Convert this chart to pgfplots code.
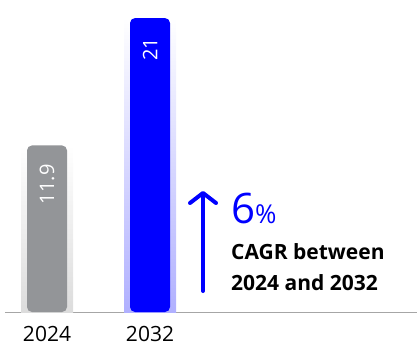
\documentclass[border=0pt]{standalone}
\usepackage{fontspec}
\setmainfont{Open Sans}
\usepackage{pgfplots}
\pgfplotsset{compat=1.18}
\usetikzlibrary{arrows.meta}
\definecolor{barblue}{HTML}{0000FF}
\definecolor{bargray}{HTML}{939598}
\definecolor{glowblue}{HTML}{B0B0FF}
\definecolor{glowgray}{HTML}{DCDCDC}
\begin{document}
\begin{tikzpicture}
\useasboundingbox (0,0) rectangle (417pt,346pt);
\begin{axis}[at={(5pt,34pt)}, anchor=south west, scale only axis,
  width=412pt, height=312pt,
  xmin=-0.4078, xmax=3.592, ymin=0, ymax=22.29,
  axis x line*=bottom, axis y line=none,
  x axis line style={-, draw=gray!70, line width=0.8pt},
  xtick={0,1}, xticklabels={2024,2032}, major tick length=0pt,
  xticklabel style={font=\fontsize{21}{21}\selectfont, text=black, inner sep=0pt, yshift=-14pt},
  clip=false]
\addplot[ybar, bar shift=0pt, bar width=52pt, draw=none, shading=axis, top color=white, bottom color=glowgray] coordinates {(0,11.9)};
\addplot[ybar, bar shift=0pt, bar width=52pt, draw=none, shading=axis, top color=white, bottom color=glowblue] coordinates {(1,21)};
\addplot[ybar, bar shift=0pt, bar width=40pt, draw=none, fill=bargray, rounded corners=5pt] coordinates {(0,11.9)};
\addplot[ybar, bar shift=0pt, bar width=40pt, draw=none, fill=barblue, rounded corners=5pt] coordinates {(1,21)};
\node[rotate=90, anchor=east, text=white, font=\fontsize{20}{20}\selectfont, inner sep=0pt] at (axis cs:0,10.55) {11.9};
\node[rotate=90, anchor=east, text=white, font=\fontsize{20}{20}\selectfont, inner sep=0pt] at (axis cs:1,19.6) {21};
\end{axis}
\draw[barblue, line width=4pt, line cap=round, -{Straight Barb[length=10pt, width=26pt, round]}] (203pt,55pt) -- (203pt,155pt);
\node[anchor=base west, inner sep=0pt, text=barblue] at (231pt,123pt) {\fontsize{42}{42}\selectfont 6\fontsize{26}{26}\selectfont\%};
\node[anchor=base west, inner sep=0pt, font=\fontsize{21}{21}\selectfont\bfseries] at (231pt,87pt) {CAGR between};
\node[anchor=base west, inner sep=0pt, font=\fontsize{21}{21}\selectfont\bfseries] at (231pt,56pt) {2024 and 2032};
\end{tikzpicture}
\end{document}
